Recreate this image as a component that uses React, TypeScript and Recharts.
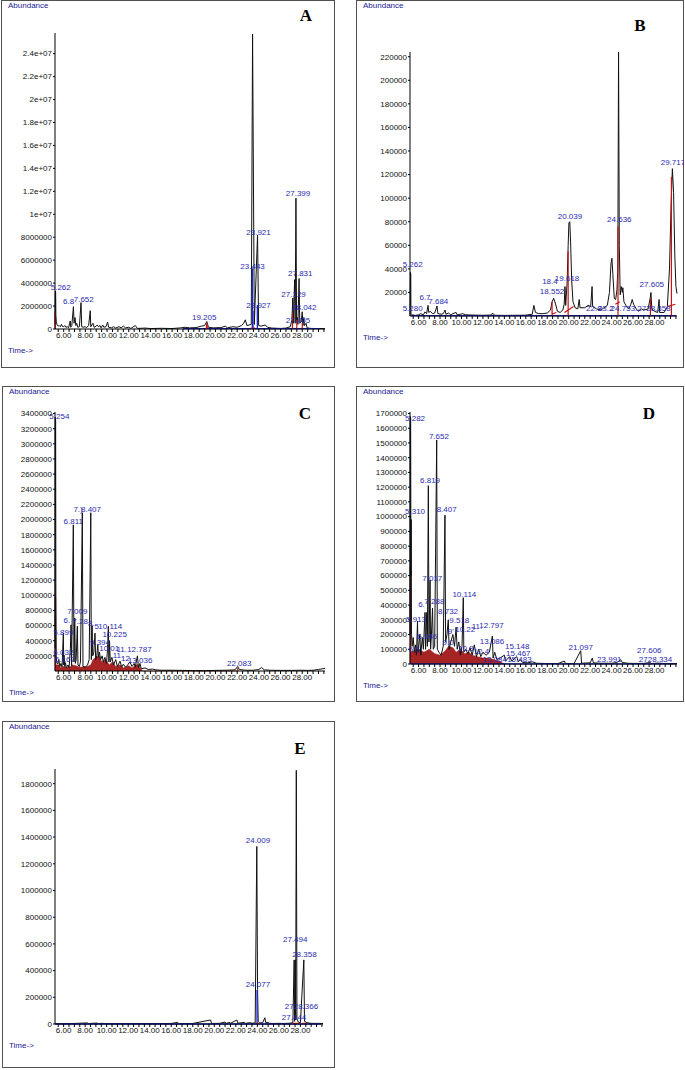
import { ComposedChart, Line, Area, XAxis, YAxis } from "recharts";

const FONT = '"Liberation Sans Narrow", "Liberation Sans", Arial, sans-serif';
const SERIF = '"Liberation Serif", "DejaVu Serif", serif';
const BLUE = "#2b2bb0";
const NAVY = "#1a1a96";
const RED = "#c41414";
const DARKRED = "#9c0c0c";

type Pt = [number, number | null];
type Peak = [number, number, string];

// retention time axis (min), same for all five runs
const timeMin = 5.2;
const timeMax = 30.1;
const timeLabelValues = [6, 8, 10, 12, 14, 16, 18, 20, 22, 24, 26, 28];
const timeLabels = ["6.00", "8.00", "10.00", "12.00", "14.00", "16.00", "18.00", "20.00", "22.00", "24.00", "26.00", "28.00"];

// ---------- A (abundance in 1e6) ----------
const yTicksA = [0, 2, 4, 6, 8, 10, 12, 14, 16, 18, 20, 22, 24];
const yTextA = ["0", "2000000", "4000000", "6000000", "8000000", "1e+07", "1.2e+07", "1.4e+07", "1.6e+07", "1.8e+07", "2e+07", "2.2e+07", "2.4e+07"];
const traceA: Pt[] = [
  [5.2, 0.4], [5.23, 3.3], [5.26, 3.2], [5.28, 1.2], [5.32, 0.6], [5.4, 0.35], [5.5, 0.25], [5.6, 0.3], [5.7, 0.2],
  [5.8, 0.4], [5.85, 0.25], [6.0, 0.2], [6.1, 0.3], [6.2, 0.15], [6.35, 0.2], [6.45, 0.1], [6.6, 0.7], [6.65, 0.15],
  [6.75, 0.3], [6.9, 1.95], [6.96, 0.5], [7.05, 1.0], [7.12, 0.3], [7.2, 0.5], [7.3, 0.15], [7.45, 0.2], [7.6, 2.3],
  [7.66, 0.2], [7.8, 0.15], [8.0, 0.2], [8.1, 0.1], [8.3, 0.3], [8.45, 1.6], [8.5, 0.2], [8.7, 0.5], [8.8, 0.15],
  [9.0, 0.25], [9.1, 0.35], [9.2, 0.2], [9.35, 0.3], [9.45, 0.1], [9.6, 0.35], [9.7, 0.15], [9.9, 0.2], [10.05, 0.6],
  [10.15, 0.15], [10.4, 0.1], [10.6, 0.2], [10.8, 0.08], [11.1, 0.2], [11.3, 0.1], [11.5, 0.25], [11.7, 0.1],
  [12.0, 0.15], [12.2, 0.05], [12.6, 0.3], [12.8, 0.05], [13.5, 0.08], [14, 0.04], [15, 0.06], [16, 0.04],
  [16.8, 0.1], [17.2, 0.15], [17.6, 0.1], [18.2, 0.12], [18.7, 0.25], [19.0, 0.3], [19.2, 0.65], [19.35, 0.15],
  [19.8, 0.1], [20.5, 0.12], [20.9, 0.25], [21.1, 0.1], [21.6, 0.2], [22.0, 0.15], [22.4, 0.3], [22.6, 0.5],
  [22.75, 0.8], [22.9, 0.3], [23.3, 0.4], [23.42, 25.7], [23.58, 0.4], [23.88, 8.2], [23.98, 0.3], [24.2, 0.25],
  [24.6, 0.35], [24.8, 0.15], [25.2, 0.08], [26.0, 0.05], [26.5, 0.08], [26.9, 0.2], [27.05, 0.8], [27.13, 2.7],
  [27.18, 0.5], [27.3, 4.3], [27.35, 0.5], [27.42, 11.4], [27.48, 0.6], [27.55, 1.0], [27.6, 0.4], [27.71, 4.4],
  [27.77, 0.5], [27.9, 0.6], [28.0, 1.5], [28.06, 0.3], [28.15, 1.0], [28.2, 0.3], [28.35, 0.5], [28.45, 0.1],
  [28.8, 0.05], [29.5, 0.04], [30.1, 0.03],
];
const blueA: Pt[] = [
  [17.0, 0.03], [29.6, 0.03], [29.6, null], [23.4, 0], [23.4, 5.3], [23.4, null], [23.46, 0], [23.46, 1.6],
  [23.46, null], [23.86, 0], [23.86, 2.1],
];
const redA: Pt[] = [
  [5.22, 0], [5.22, 1.4], [5.22, null], [19.15, 0], [19.2, 0.5], [19.25, 0], [19.25, null], [23.25, 0.08],
  [23.65, 0.08], [23.65, null], [27.1, 0], [27.1, 1.3], [27.1, null], [27.5, 0], [27.5, 0.8], [27.5, null],
  [28.0, 0], [28.0, 0.5],
];
const peaksA: Peak[] = [
  [5.73, 3.65, "5.262"], [6.45, 2.45, "6.8"], [7.85, 2.58, "7.652"], [18.96, 1.07, "19.205"],
  [23.97, 8.47, "23.921"], [23.42, 5.48, "23.443"], [23.97, 2.09, "23.927"], [27.61, 11.86, "27.399"],
  [27.82, 4.85, "27.831"], [27.2, 3.02, "27.129"], [28.19, 1.94, "28.042"], [27.61, 0.78, "27.405"],
];

// ---------- B (abundance in 1e3) ----------
const yTicksB = [20, 40, 60, 80, 100, 120, 140, 160, 180, 200, 220];
const yTextB = ["20000", "40000", "60000", "80000", "100000", "120000", "140000", "160000", "180000", "200000", "220000"];
const traceB: Pt[] = [
  [5.2, 0], [5.24, 37], [5.27, 36], [5.29, 2], [5.4, 1], [5.7, 0.5], [6.0, 1], [6.2, 2], [6.45, 1], [6.6, 3.5],
  [6.75, 2], [6.88, 9], [6.95, 3], [7.1, 4], [7.3, 2], [7.5, 2.5], [7.72, 8.5], [7.8, 2], [8.1, 1.5], [8.3, 2],
  [8.47, 5], [8.55, 1.5], [8.8, 2.5], [9.0, 1], [9.2, 2], [9.5, 3], [9.6, 1], [9.9, 1.5], [10.1, 2], [10.4, 1],
  [11, 0.8], [12, 0.6], [12.8, 0.8], [12.9, 2.5], [13.1, 0.6], [14, 0.5], [15, 0.6], [16, 0.7], [16.6, 1.5],
  [16.75, 9], [16.9, 3], [17.2, 2], [17.6, 2], [18.0, 2.5], [18.3, 5], [18.45, 12], [18.6, 15], [18.75, 11],
  [18.95, 4], [19.2, 3], [19.45, 5], [19.58, 10], [19.65, 25], [19.72, 9], [19.85, 28], [19.95, 60], [20.02, 79],
  [20.1, 80], [20.18, 62], [20.28, 30], [20.4, 12], [20.6, 7], [20.85, 6], [20.98, 14], [21.05, 7], [21.5, 7],
  [21.8, 9], [22.05, 8], [22.18, 25], [22.23, 8], [22.6, 6], [23.0, 5], [23.3, 7], [23.6, 9], [23.8, 20],
  [23.95, 45], [24.03, 49], [24.12, 35], [24.25, 15], [24.38, 14], [24.5, 22], [24.58, 40], [24.65, 224],
  [24.72, 60], [24.8, 18], [24.9, 25], [25.0, 20], [25.05, 24], [25.15, 12], [25.4, 8], [25.6, 6], [25.8, 10],
  [25.92, 14], [26.05, 10], [26.3, 6], [26.5, 4], [26.8, 6], [27.0, 5], [27.4, 6], [27.6, 15], [27.67, 20],
  [27.75, 6], [28.0, 4], [28.3, 3], [28.43, 14], [28.48, 3], [28.9, 3], [29.2, 8], [29.4, 40], [29.55, 95],
  [29.67, 125], [29.78, 105], [29.9, 50], [30.0, 25], [30.1, 19],
];
const blueB: Pt[] = [[5.3, 0.3], [30.0, 0.3]];
const redB: Pt[] = [
  [18.45, 0], [18.45, 12], [18.45, null], [18.4, 1.5], [18.85, 3], [18.85, null], [19.95, 0], [19.95, 55],
  [19.95, null], [19.6, 3], [20.45, 8], [20.45, null], [24.6, 0], [24.6, 76], [24.6, null], [24.35, 10],
  [24.75, 12], [24.75, null], [27.62, 0], [27.62, 15], [27.62, null], [29.58, 0], [29.58, 118], [29.58, null],
  [29.2, 8], [29.95, 10],
];
const peaksB: Peak[] = [
  [5.45, 43.8, "5.262"], [5.45, 6.5, "5.280"], [6.6, 16.4, "6.7"], [7.84, 12.7, "7.684"], [18.25, 29.7, "18.4"],
  [18.45, 21.2, "18.552"], [19.85, 32, "19.618"], [20.12, 84.7, "20.039"], [24.72, 82, "24.636"],
  [29.72, 131, "29.717"], [27.75, 26.9, "27.605"], [22.35, 6.5, "22.8"], [23.45, 6.5, "23.2"],
  [25.05, 6.5, "24.753"], [27.85, 6.5, ".2728.358"],
];

// ---------- C (abundance in 1e3) ----------
const yTicksC = [200, 400, 600, 800, 1000, 1200, 1400, 1600, 1800, 2000, 2200, 2400, 2600, 2800, 3000, 3200, 3400];
const yTextC = ["200000", "400000", "600000", "800000", "1000000", "1200000", "1400000", "1600000", "1800000", "2000000", "2200000", "2400000", "2600000", "2800000", "3000000", "3200000", "3400000"];
const traceC: Pt[] = [
  [5.2, 300], [5.22, 3350], [5.26, 3300], [5.28, 1000], [5.31, 200], [5.35, 120], [5.45, 90], [5.55, 150],
  [5.65, 60], [5.75, 100], [5.85, 50], [5.97, 500], [6.0, 80], [6.03, 210], [6.1, 60], [6.17, 110], [6.25, 40],
  [6.4, 80], [6.5, 40], [6.62, 300], [6.68, 610], [6.73, 70], [6.89, 1930], [6.95, 120], [7.02, 700], [7.08, 100],
  [7.15, 150], [7.26, 590], [7.32, 80], [7.45, 60], [7.55, 120], [7.72, 2090], [7.78, 60], [8.0, 50], [8.2, 80],
  [8.35, 150], [8.5, 2090], [8.55, 150], [8.62, 600], [8.68, 200], [8.78, 250], [8.89, 500], [8.95, 150],
  [9.05, 200], [9.15, 350], [9.2, 180], [9.3, 250], [9.4, 150], [9.55, 200], [9.65, 120], [9.8, 180], [9.95, 100],
  [10.05, 300], [10.12, 590], [10.17, 120], [10.23, 400], [10.3, 120], [10.45, 180], [10.6, 80], [10.8, 150],
  [10.95, 60], [11.2, 130], [11.35, 50], [11.5, 90], [11.7, 50], [11.9, 80], [12.1, 120], [12.3, 60], [12.5, 100],
  [12.6, 50], [12.8, 200], [12.9, 40], [13.04, 100], [13.15, 30], [13.5, 40], [13.8, 20], [14.2, 25], [14.5, 15],
  [15, 10], [16, 10], [17, 8], [18, 5], [19, 5], [20, 8], [21, 10], [21.8, 15], [22.05, 60], [22.2, 20], [22.8, 10],
  [23.5, 10], [24.0, 20], [24.25, 45], [24.5, 15], [25, 10], [26, 8], [27, 8], [28, 10], [28.5, 8], [29, 10],
  [29.5, 20], [30.1, 35],
];
const redFillC: Pt[] = [
  [5.2, 0], [5.21, 980], [5.27, 980], [5.29, 80], [5.6, 80], [5.7, 40], [6.0, 60], [6.5, 40], [6.8, 80], [7.1, 70],
  [7.5, 50], [8.2, 60], [8.5, 80], [8.7, 150], [9.0, 180], [9.3, 200], [9.5, 120], [9.9, 150], [10.2, 80],
  [10.5, 120], [10.8, 60], [11.2, 80], [11.5, 40], [12.0, 70], [12.3, 40], [12.8, 90], [13.1, 30], [13.3, 0],
  [22.0, 0], [22.05, 40], [22.1, 0],
];
const peaksC: Peak[] = [
  [5.6, 3368, "5.254"], [6.89, 1977, "6.811"], [7.33, 2141, "7.)"], [8.52, 2141, "8.407"], [7.26, 795, "7.009"],
  [6.3, 680, "6."], [7.52, 660, "7.28"], [8.55, 640, "8."], [9.05, 600, "5"],
  [10.3, 600, "10.114"], [10.7, 486, "10.225"], [5.97, 520, "5.899"], [9.35, 388, "9.394"],
  [10.2, 300, "10.01"], [5.97, 256, "6.032"], [11.35, 287, "11."], [12.98, 287, "12.787"],
  [11.7, 168, "12"], [13.05, 140, "13.036"], [6.12, 160, "6.167"], [11.0, 215, "11."], [22.19, 101, "22.083"],
];

// ---------- D (abundance in 1e3) ----------
const yTicksD = [0, 100, 200, 300, 400, 500, 600, 700, 800, 900, 1000, 1100, 1200, 1300, 1400, 1500, 1600, 1700];
const yTextD = ["0", "100000", "200000", "300000", "400000", "500000", "600000", "700000", "800000", "900000", "1000000", "1100000", "1200000", "1300000", "1400000", "1500000", "1600000", "1700000"];
const traceD: Pt[] = [
  [5.2, 200], [5.22, 1680], [5.26, 1670], [5.29, 600], [5.31, 980], [5.34, 200], [5.4, 120], [5.5, 180], [5.6, 80],
  [5.7, 130], [5.8, 60], [5.9, 290], [5.95, 80], [6.05, 150], [6.12, 200], [6.2, 60], [6.35, 180], [6.45, 100],
  [6.6, 350], [6.65, 100], [6.76, 350], [6.82, 120], [6.91, 1210], [6.97, 150], [7.07, 570], [7.12, 100],
  [7.2, 200], [7.3, 380], [7.37, 100], [7.5, 120], [7.69, 1520], [7.75, 100], [7.9, 80], [8.1, 60], [8.3, 120],
  [8.46, 1010], [8.52, 150], [8.65, 200], [8.77, 300], [8.85, 100], [9.0, 150], [9.2, 200], [9.35, 120],
  [9.5, 250], [9.6, 100], [9.75, 150], [9.9, 60], [10.05, 120], [10.17, 450], [10.22, 80], [10.4, 100],
  [10.6, 70], [10.8, 110], [11.0, 60], [11.2, 130], [11.4, 50], [11.6, 100], [11.8, 50], [12.0, 80], [12.3, 60],
  [12.6, 80], [12.88, 190], [12.95, 40], [13.1, 80], [13.3, 30], [13.6, 40], [14.0, 60], [14.1, 20], [14.5, 50],
  [14.7, 20], [15.15, 50], [15.3, 15], [15.5, 30], [15.7, 10], [16.2, 8], [16.6, 15], [17.0, 5], [18, 3], [19, 3],
  [19.6, 20], [19.7, 3], [20.5, 3], [21.12, 90], [21.2, 5], [22.0, 8], [22.2, 40], [22.3, 8], [23, 5], [24, 5],
  [24.5, 10], [24.85, 30], [25.0, 10], [25.5, 5], [26, 4], [27, 4], [27.6, 10], [27.7, 3], [28.3, 6], [29, 3],
  [30.1, 3],
];
const redFillD: Pt[] = [
  [5.2, 0], [5.21, 660], [5.27, 660], [5.29, 80], [5.6, 90], [6.0, 100], [6.5, 80], [7.0, 100], [7.5, 70],
  [8.0, 60], [8.5, 90], [8.8, 120], [9.2, 110], [9.5, 80], [9.9, 100], [10.3, 70], [10.7, 80], [11.0, 60],
  [11.5, 50], [12.0, 40], [12.5, 40], [13.0, 30], [13.5, 20], [14.0, 0],
];
const blueD: Pt[] = [[5.3, 1], [30.0, 1]];
const peaksD: Peak[] = [
  [5.67, 1669, "5.282"], [7.9, 1549, "7.652"], [7.07, 1251, "6.819"], [5.67, 1041, "5.310"],
  [8.62, 1052, "8.407"], [7.28, 584, "7.017"], [10.27, 476, "10.114"], [7.47, 425, "7.288"], [6.27, 405, "6."],
  [8.75, 360, "8.732"], [5.76, 302, "5.913"], [9.8, 300, "9.518"], [12.8, 268, "12.797"], [10.35, 235, "10.22"],
  [9.0, 222, "9'"], [11.45, 256, "11."], [6.81, 190, "6.946"], [8.75, 150, "9.0"], [10.4, 110, "10.8"],
  [12.85, 155, "13.086"], [11.85, 88, "12.4"], [15.2, 125, "15.148"], [15.3, 76, "15.467"],
  [15.4, 31, "15.483"], [13.1, 31, "13.084"], [5.6, 100, "5.5"], [21.12, 114, "21.097"], [23.79, 35, "23.991"],
  [27.52, 98, "27.606"], [28.1, 31, "2728.334"],
];

// ---------- E (abundance in 1e3) ----------
const yTicksE = [0, 200, 400, 600, 800, 1000, 1200, 1400, 1600, 1800];
const yTextE = ["0", "200000", "400000", "600000", "800000", "1000000", "1200000", "1400000", "1600000", "1800000"];
const traceE: Pt[] = [
  [5.2, 3], [6, 3], [7, 4], [8.2, 8], [8.3, 3], [8.8, 6], [9.1, 7], [9.2, 3], [9.6, 5], [10, 3], [11, 3], [12, 3],
  [14, 3], [16, 4], [16.6, 12], [16.7, 3], [18, 4], [19.65, 30], [19.75, 4], [20.5, 5], [21.0, 15], [21.1, 5],
  [21.45, 12], [21.5, 5], [22.1, 30], [22.2, 6], [22.8, 12], [22.9, 5], [23.3, 10], [23.5, 6], [23.8, 8],
  [23.95, 1330], [24.02, 260], [24.08, 20], [24.2, 8], [24.5, 10], [24.7, 47], [24.78, 10], [25.0, 12], [25.1, 5],
  [25.5, 4], [26.0, 5], [26.5, 4], [27.0, 6], [27.3, 10], [27.42, 480], [27.46, 20], [27.52, 480], [27.56, 30],
  [27.62, 1900], [27.68, 40], [27.8, 15], [28.0, 10], [28.32, 480], [28.38, 20], [28.6, 10], [29.0, 5], [30.1, 4],
];
const blueE: Pt[] = [[5.2, 0], [29.9, 0], [29.9, null], [23.97, 0], [23.97, 255]];
const redE: Pt[] = [[23.9, 4], [24.1, 4], [24.1, null], [27.3, 4], [27.9, 4], [27.9, null], [28.2, 4], [28.5, 4]];
const peaksE: Peak[] = [
  [24.06, 1378, "24.009"], [24.06, 297, "24.077"], [27.52, 634, "27.494"], [28.37, 522, "28.358"],
  [28.1, 137, "2728.366"], [27.41, 55, "27.444"],
];

const rows = (pts: Pt[]) => pts.map(([t, v]) => ({ t, v }));
const labelRows = (pks: Peak[]) => pks.map(([t, v, text]) => ({ t, v, text }));
const minorTicks = Array.from({ length: 50 }, (_, i) => 5.5 + i * 0.5);

type Box = { x: number; y: number; w: number; h: number };
type Plot = { x0: number; x1: number; y0: number; y1: number };

type PanelProps = {
  box: Box;
  plot: Plot;
  letter: string;
  letterAt: [number, number];
  yMax: number;
  yTicks: number[];
  yText: string[];
  trace: Pt[];
  blue?: Pt[];
  red?: Pt[];
  redFill?: Pt[];
  peaks: Peak[];
};

function TimeTick(props: any) {
  const { x, y, payload } = props;
  const i = timeLabelValues.indexOf(payload.value);
  if (i < 0) return <g />;
  return (
    <text x={x} y={y + 5} textAnchor="middle" fontSize={8} fontFamily={FONT} fill="#111">
      {timeLabels[i]}
    </text>
  );
}

function PeakLabel(props: any) {
  const { cx, cy, payload, index } = props;
  if (cx == null || cy == null) return <g key={index} />;
  return (
    <text key={index} x={cx} y={cy + 3} textAnchor="middle" fontSize={8} fontFamily={FONT} fill={BLUE}>
      {payload.text}
    </text>
  );
}

function Panel({ box, plot, letter, letterAt, yMax, yTicks, yText, trace, blue, red, redFill, peaks }: PanelProps) {
  const xh = 16;
  const margin = {
    top: plot.y0 - box.y,
    right: box.x + box.w - plot.x1,
    bottom: box.y + box.h - plot.y1 - xh,
    left: 0,
  };
  const textStyle = { position: "absolute" as const, fontFamily: FONT, fontSize: 8, color: NAVY, lineHeight: "10px" };
  return (
    <>
      <div
        style={{
          position: "absolute",
          left: box.x,
          top: box.y,
          width: box.w,
          height: box.h,
          border: "1px solid #505050",
          boxSizing: "border-box",
        }}
      />
      <div style={{ ...textStyle, left: box.x + 7, top: box.y + 1 }}>Abundance</div>
      <div style={{ ...textStyle, left: box.x + 7, top: plot.y1 + 17 }}>Time-&gt;</div>
      <div
        style={{
          position: "absolute",
          left: letterAt[0] - 10,
          top: letterAt[1] - 11,
          width: 20,
          textAlign: "center",
          fontFamily: SERIF,
          fontWeight: "bold",
          fontSize: 17,
          lineHeight: "20px",
          color: "#000",
        }}
      >
        {letter}
      </div>
      <div style={{ position: "absolute", left: box.x, top: box.y }}>
        <ComposedChart width={box.w} height={box.h} margin={margin}>
          <XAxis
            dataKey="t"
            type="number"
            domain={[timeMin, timeMax]}
            ticks={minorTicks}
            interval={0}
            tick={<TimeTick />}
            tickSize={3}
            tickMargin={1}
            height={xh}
            stroke="#000"
            tickLine={{ stroke: "#000" }}
          />
          <YAxis
            type="number"
            domain={[0, yMax]}
            ticks={yTicks}
            interval={0}
            width={plot.x0 - box.x}
            tickSize={2}
            tickMargin={1}
            tickFormatter={(v: number) => yText[yTicks.indexOf(v)] ?? ""}
            tick={{ fontSize: 8, fontFamily: FONT, fill: "#111" }}
            stroke="#000"
          />
          {redFill && (
            <Area
              data={rows(redFill)}
              dataKey="v"
              type="linear"
              stroke={DARKRED}
              strokeWidth={0.5}
              fill={DARKRED}
              fillOpacity={0.9}
              isAnimationActive={false}
              dot={false}
              activeDot={false}
            />
          )}
          <Line
            data={rows(trace)}
            dataKey="v"
            type="linear"
            stroke="#111"
            strokeWidth={1}
            dot={false}
            activeDot={false}
            isAnimationActive={false}
          />
          {blue && (
            <Line
              data={rows(blue)}
              dataKey="v"
              type="linear"
              stroke="#1d2bd0"
              strokeWidth={1.3}
              dot={false}
              activeDot={false}
              isAnimationActive={false}
            />
          )}
          {red && (
            <Line
              data={rows(red)}
              dataKey="v"
              type="linear"
              stroke={RED}
              strokeWidth={1.2}
              dot={false}
              activeDot={false}
              isAnimationActive={false}
            />
          )}
          <Line
            data={labelRows(peaks)}
            dataKey="v"
            stroke="none"
            dot={<PeakLabel />}
            activeDot={false}
            isAnimationActive={false}
          />
        </ComposedChart>
      </div>
    </>
  );
}

export default function App() {
  return (
    <div style={{ position: "absolute", left: 0, top: 0, width: 685, height: 1070, background: "#fff" }}>
      <Panel
        box={{ x: 1, y: 0, w: 334, h: 368 }}
        plot={{ x0: 55, x1: 325, y0: 33, y1: 329 }}
        letter="A"
        letterAt={[306, 17]}
        yMax={25.8}
        yTicks={yTicksA}
        yText={yTextA}
        trace={traceA}
        blue={blueA}
        red={redA}
        peaks={peaksA}
      />
      <Panel
        box={{ x: 356, y: 0, w: 328, h: 368 }}
        plot={{ x0: 410, x1: 677, y0: 52, y1: 316 }}
        letter="B"
        letterAt={[640, 27]}
        yMax={224}
        yTicks={yTicksB}
        yText={yTextB}
        trace={traceB}
        blue={blueB}
        red={redB}
        peaks={peaksB}
      />
      <Panel
        box={{ x: 2, y: 386, w: 333, h: 316 }}
        plot={{ x0: 55, x1: 325, y0: 412, y1: 671 }}
        letter="C"
        letterAt={[305, 415]}
        yMax={3420}
        yTicks={yTicksC}
        yText={yTextC}
        trace={traceC}
        redFill={redFillC}
        peaks={peaksC}
      />
      <Panel
        box={{ x: 356, y: 386, w: 328, h: 316 }}
        plot={{ x0: 410, x1: 677, y0: 412, y1: 664 }}
        letter="D"
        letterAt={[649, 415]}
        yMax={1710}
        yTicks={yTicksD}
        yText={yTextD}
        trace={traceD}
        blue={blueD}
        redFill={redFillD}
        peaks={peaksD}
      />
      <Panel
        box={{ x: 2, y: 721, w: 333, h: 347 }}
        plot={{ x0: 55, x1: 323, y0: 769, y1: 1024 }}
        letter="E"
        letterAt={[300, 750]}
        yMax={1910}
        yTicks={yTicksE}
        yText={yTextE}
        trace={traceE}
        blue={blueE}
        red={redE}
        peaks={peaksE}
      />
    </div>
  );
}
